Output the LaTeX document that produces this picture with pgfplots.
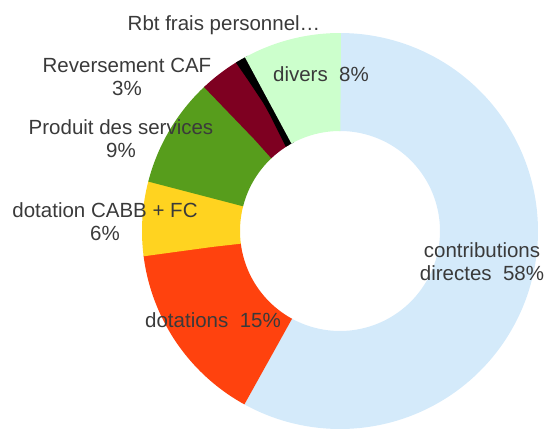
\documentclass[border=0pt]{standalone}
\usepackage{pgfplots}
\pgfplotsset{compat=1.18}
\usepackage{pgfplotstable}
\usepackage{fontspec}
\setmainfont{Liberation Sans}
\definecolor{cBlue}{HTML}{D4EAFA}
\definecolor{cRed}{HTML}{FF420E}
\definecolor{cYel}{HTML}{FFD320}
\definecolor{cGreen}{HTML}{579D1C}
\definecolor{cMar}{HTML}{7E0021}
\definecolor{cBlack}{HTML}{000000}
\definecolor{cLGreen}{HTML}{CCFFCC}
\definecolor{txt}{HTML}{3A3A3A}

\pgfplotstableread{
name pct
contrib 58
dotations 15
cabb 6
produit 9
caf 3.4
rbt 0.6
divers 8
}\shares

% cumulative angles, clockwise from 12 o'clock
\def\ang{90}
\pgfplotsforeachungrouped \i in {0,...,6}{%
  \pgfplotstablegetelem{\i}{pct}\of\shares
  \pgfmathsetmacro\nxt{\ang-3.6*\pgfplotsretval}%
  \expandafter\xdef\csname sa\i\endcsname{\ang}%
  \expandafter\xdef\csname sb\i\endcsname{\nxt}%
  \xdef\ang{\nxt}%
}

\newcommand\sector[2]{%
  \addplot[draw=#2, line width=98pt, line cap=butt, line join=round,
    domain={\csname sb#1\endcsname-0.25}:{\csname sa#1\endcsname}, samples=120, variable=\t]
    ({340+149*cos(\t)},{197+149*sin(\t)});
}

\begin{document}
\begin{tikzpicture}
\begin{axis}[
  x=1pt, y=1pt,
  xmin=0, xmax=547, ymin=0, ymax=428,
  hide axis, clip=false,
]
\path (rel axis cs:0,0) rectangle (rel axis cs:1,1);
\sector{0}{cBlue}
\sector{1}{cRed}
\sector{2}{cYel}
\sector{3}{cGreen}
\sector{4}{cMar}
\sector{5}{cBlack}
\sector{6}{cLGreen}

\begin{scope}[every node/.style={text=txt, font=\fontsize{20.5}{23}\selectfont, align=center, inner sep=0pt}]
\node at (axis cs:224,403) {Rbt frais personnel…};
\node at (axis cs:321,354) {divers\ \ 8\%};
\node at (axis cs:127,351) {Reversement CAF\\3\%};
\node at (axis cs:121,289) {Produit des services\\9\%};
\node at (axis cs:105,206) {dotation CABB + FC\\6\%};
\node at (axis cs:213,108) {dotations\ \ 15\%};
\node at (axis cs:482,166) {contributions\\directes\ \ 58\%};
\end{scope}
\end{axis}
\end{tikzpicture}
\end{document}
